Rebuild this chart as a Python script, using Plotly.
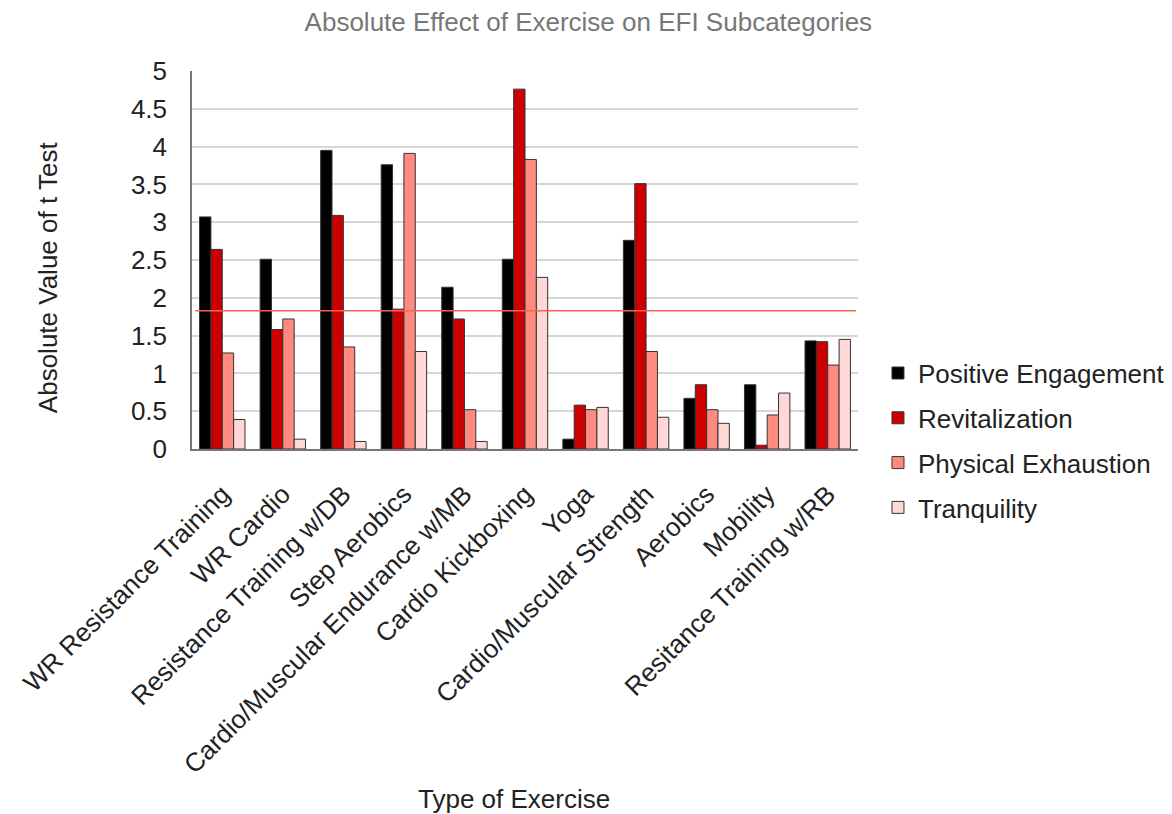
import plotly.graph_objects as go

exercises = [
    "WR Resistance Training", "WR Cardio", "Resistance Training w/DB",
    "Step Aerobics", "Cardio/Muscular Endurance w/MB", "Cardio Kickboxing",
    "Yoga", "Cardio/Muscular Strength", "Aerobics", "Mobility",
    "Resitance Training w/RB",
]
positive_engagement = [3.07, 2.51, 3.95, 3.76, 2.14, 2.51, 0.13, 2.76, 0.67, 0.85, 1.43]
revitalization = [2.64, 1.58, 3.09, 1.85, 1.72, 4.76, 0.58, 3.51, 0.85, 0.05, 1.42]
physical_exhaustion = [1.27, 1.72, 1.35, 3.91, 0.52, 3.83, 0.52, 1.29, 0.52, 0.45, 1.11]
tranquility = [0.39, 0.13, 0.10, 1.29, 0.10, 2.27, 0.55, 0.42, 0.34, 0.74, 1.45]
critical_t = 1.83

series = [
    ("Positive Engagement", positive_engagement, "#000000"),
    ("Revitalization", revitalization, "#cc0000"),
    ("Physical Exhaustion", physical_exhaustion, "#ff8a80"),
    ("Tranquility", tranquility, "#ffd7d4"),
]

fig = go.Figure()
for name, vals, color in series:
    fig.add_trace(go.Bar(
        x=exercises, y=vals, name=name, legendgroup=name,
        marker=dict(color=color, line=dict(color="#333333", width=1)),
    ))

fig.add_shape(
    type="line", xref="paper", yref="y", x0=0.005, x1=0.997,
    y0=critical_t, y1=critical_t,
    line=dict(color="#ff5f50", width=1.5),
)

# axis titles as annotations for finer placement
fig.add_annotation(
    text="Type of Exercise", xref="paper", yref="paper",
    x=0.483, y=-0.925, xanchor="center", yanchor="middle",
    showarrow=False, font=dict(size=26, color="#222222"),
)
fig.add_annotation(
    text="Absolute Value of t Test", xref="paper", yref="paper",
    x=-0.216, y=0.455, xanchor="center", yanchor="middle", textangle=-90,
    showarrow=False, font=dict(size=26, color="#222222"),
)

font = "Liberation Sans, Arial, sans-serif"
fig.update_layout(
    width=1172, height=814,
    margin=dict(l=192, r=314, t=71, b=365, autoexpand=False),
    paper_bgcolor="white", plot_bgcolor="white",
    barmode="group", bargap=0.25, bargroupgap=0,
    font=dict(family=font, size=26, color="#222222"),
    title=dict(
        text="Absolute Effect of Exercise on EFI Subcategories",
        x=0.502, xanchor="center", y=0.973, yanchor="middle",
        font=dict(size=26, color="#777777"),
    ),
    legend=dict(
        x=1.03, xanchor="left", y=0.263, yanchor="top",
        font=dict(size=26, color="#222222"),
        tracegroupgap=8, itemwidth=30,
    ),
    showlegend=True,
)
fig.update_xaxes(
    tickangle=-45, tickfont=dict(size=26),
    showline=True, linecolor="#777777", linewidth=1.5,
    ticks="", ticklabelstandoff=18, automargin=False,
)
fig.update_yaxes(
    range=[0, 5], dtick=0.5, tickfont=dict(size=26),
    showgrid=True, gridcolor="#d6d6d6", gridwidth=1.5,
    showline=True, linecolor="#777777", linewidth=1.5,
    zeroline=False, ticks="", ticklabelstandoff=18, automargin=False,
)

fig.write_html("out.html")
